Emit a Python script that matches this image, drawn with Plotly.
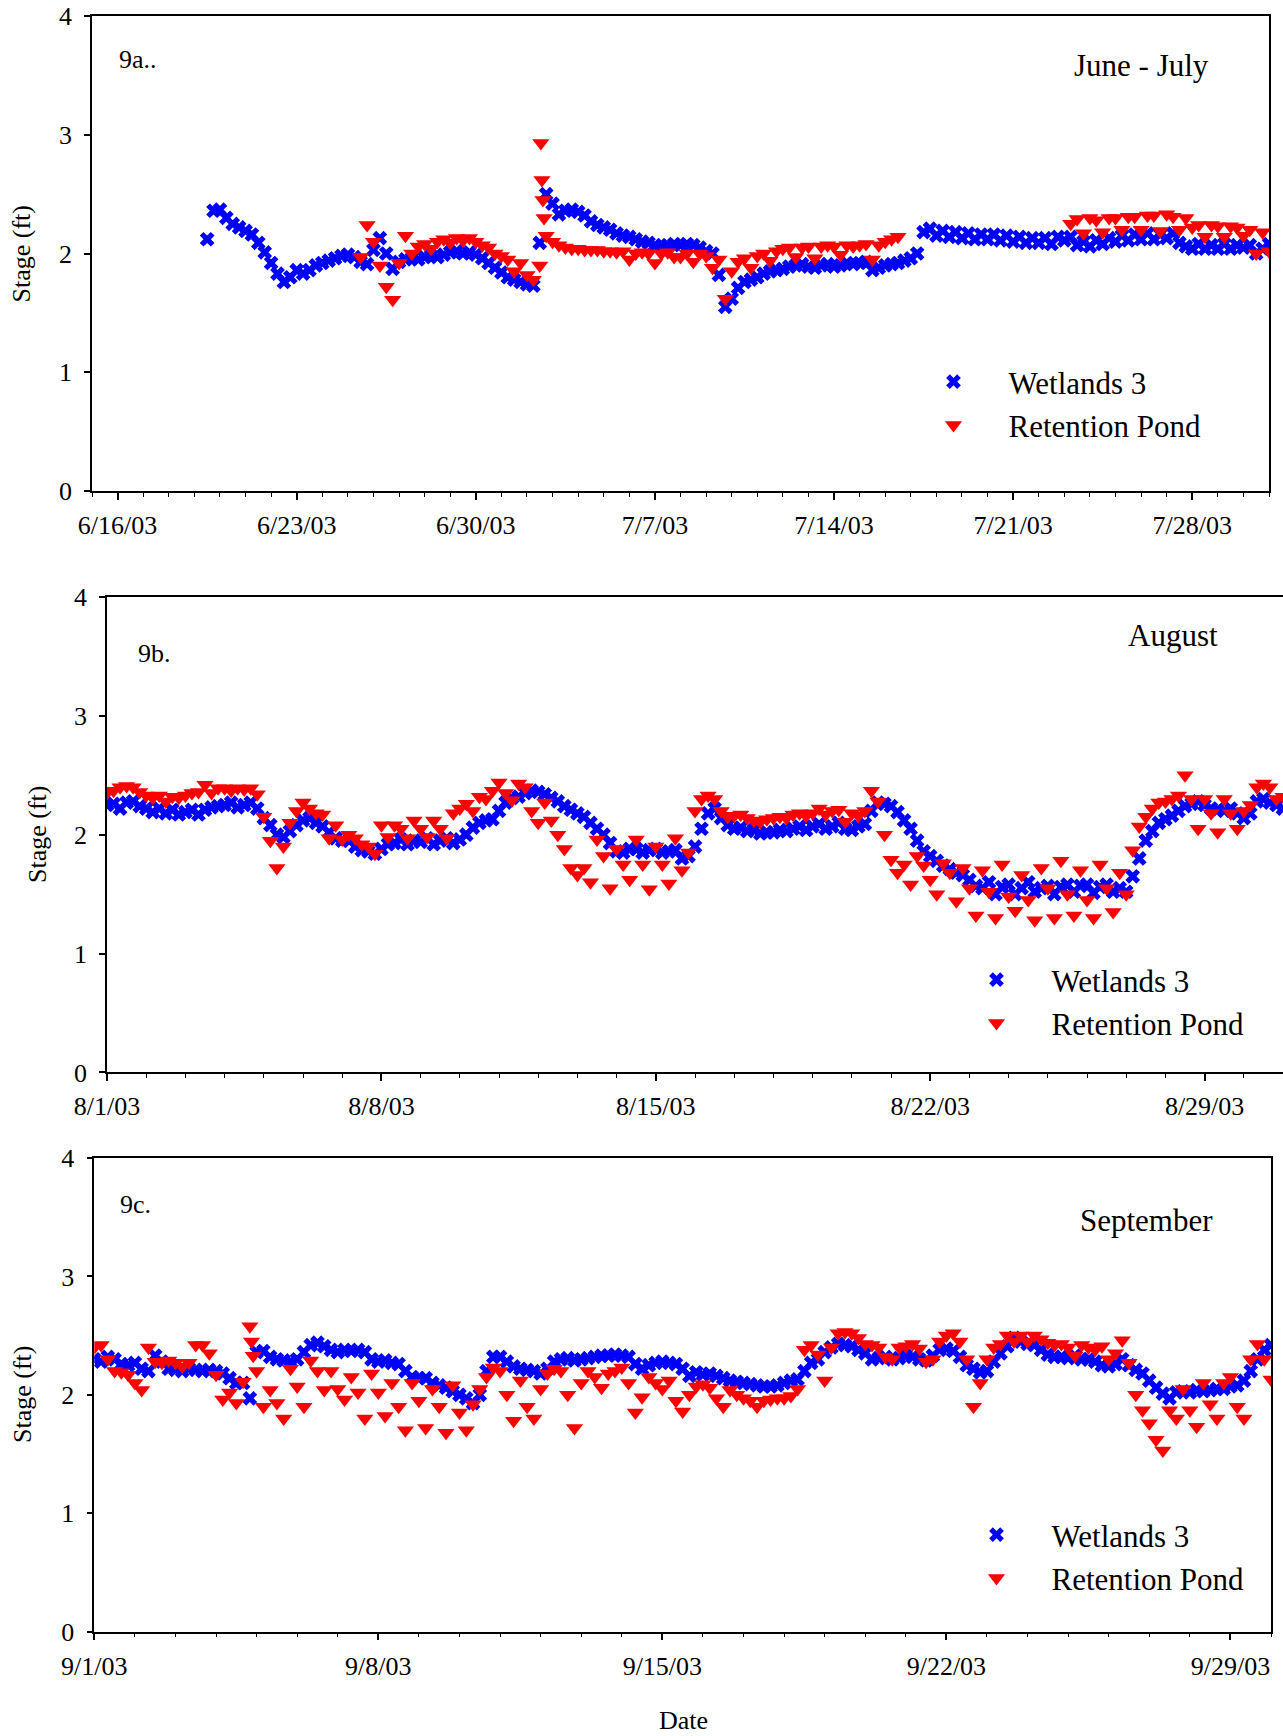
import pandas as pd
import plotly.graph_objects as go

FONT = "Liberation Serif, Times New Roman, serif"
W, H = 1283, 1736

# ---------------- data (stage, ft) ----------------
# Panel 9a: Wetlands 3, every 6 h from 2003-06-19 12:00
wet_a_start = "2003-06-19 12:00"
wet_a = [
    2.12, 2.36,
    2.37, 2.30, 2.25, 2.22,
    2.19, 2.16, 2.09, 2.01,
    1.92, 1.83, 1.76, 1.80,
    1.86, 1.83, 1.86, 1.90,
    1.92, 1.94, 1.96, 1.98,
    1.99, 1.97, 1.93, 1.91,
    2.03, 2.13, 2.00, 1.87,
    1.93, 1.95, 1.96, 1.95,
    1.97, 1.98, 1.97, 1.99,
    2.01, 2.02, 2.00, 2.01,
    1.99, 1.96, 1.92, 1.88,
    1.84, 1.80, 1.78, 1.76,
    1.74, 1.73, 2.09, 2.50,
    2.42, 2.33, 2.36, 2.37,
    2.35, 2.32, 2.27, 2.24,
    2.22, 2.20, 2.17, 2.15,
    2.14, 2.12, 2.10, 2.09,
    2.07, 2.06, 2.07, 2.08,
    2.07, 2.08, 2.07, 2.05,
    2.02, 2.00, 1.82, 1.55,
    1.62, 1.71, 1.76, 1.78,
    1.80, 1.83, 1.85, 1.86,
    1.87, 1.89, 1.90, 1.91,
    1.89, 1.88, 1.90, 1.91,
    1.89, 1.90, 1.92, 1.91,
    1.92, 1.93, 1.86, 1.88,
    1.90, 1.91, 1.92, 1.94,
    1.96, 2.00, 2.18, 2.21,
    2.15, 2.19, 2.14, 2.18,
    2.13, 2.17, 2.12, 2.16,
    2.12, 2.16, 2.11, 2.15,
    2.10, 2.14, 2.09, 2.13,
    2.09, 2.13, 2.08, 2.14,
    2.11, 2.14, 2.07, 2.10,
    2.06, 2.11, 2.08, 2.13,
    2.10, 2.15, 2.11, 2.16,
    2.12, 2.17, 2.12, 2.16,
    2.13, 2.17, 2.09, 2.06,
    2.04, 2.08, 2.04, 2.07,
    2.04, 2.08, 2.04, 2.07,
    2.05, 2.07, 2.00, 2.04,
    2.08,
]
# Panel 9a: Retention Pond, every 6 h from 2003-06-25 12:00 (None = no record)
pond_a_start = "2003-06-25 12:00"
pond_a = [
    1.97, 2.24,
    2.10, 1.90, 1.72, 1.61,
    1.92, 2.15, 2.00, 2.06,
    2.08, 2.04, 2.10, 2.12,
    2.09, 2.13, 2.11, 2.13,
    2.10, 2.07, 2.05, 2.00,
    1.98, 1.95, 1.85, 1.92,
    1.82, 1.78, 1.90, 2.15,
    2.10, 2.07, 2.05, 2.04,
    2.04, 2.03, 2.03, 2.03,
    2.02, 2.02, 2.01, 2.02,
    1.95, 2.00, 2.01, 2.00,
    1.92, 2.00, 2.01, 1.97,
    1.97, 2.00, 1.93, 2.00,
    1.98, 1.88, 1.95, 1.62,
    1.85, 1.93, 1.96, 1.88,
    1.98, 2.00, 1.94, 2.02,
    2.04, 2.05, 1.97, 2.05,
    2.06, 1.96, 2.06, 2.07,
    2.06, 1.99, 2.07, 2.06,
    2.07, 2.08, 1.95, 2.07,
    2.10, 2.12, 2.14, None,
    None, None, None, None,
    None, None, None, None,
    None, None, None, None,
    None, None, None, None,
    None, None, None, None,
    None, None, None, None,
    None, 2.25, 2.29, 2.17,
    2.30, 2.28, 2.18, 2.30,
    2.30, 2.20, 2.31, 2.31,
    2.20, 2.32, 2.32, 2.19,
    2.33, 2.31, 2.20, 2.30,
    2.22, 2.24, 2.14, 2.24,
    2.23, 2.14, 2.23, 2.22,
    2.15, 2.20, 2.00, 2.18,
    2.02,
]
pond_a_spike_times = ["2003-07-02 13:00", "2003-07-02 14:00", "2003-07-02 15:00", "2003-07-02 16:00"]
pond_a_spike = [2.93, 2.62, 2.45, 2.30]

# Panel 9b: every 4 h from 2003-08-01 00:00
wet_b_start = "2003-08-01 00:00"
wet_b = [
    2.25, 2.26, 2.22, 2.27, 2.28, 2.24,
    2.22, 2.19, 2.22, 2.18, 2.21, 2.17,
    2.19, 2.21, 2.17, 2.21, 2.23, 2.24,
    2.25, 2.27, 2.23, 2.25, 2.27, 2.22,
    2.14, 2.08, 2.00, 1.98, 2.03, 2.08,
    2.12, 2.14, 2.10, 2.07, 2.02, 1.97,
    1.95, 1.95, 1.90, 1.87, 1.86, 1.84,
    1.88, 1.92, 1.93, 1.96, 1.92, 1.95,
    1.94, 1.97, 1.92, 1.95, 1.97, 1.93,
    1.96, 2.00, 2.06, 2.10, 2.12, 2.13,
    2.20, 2.27, 2.31, 2.32, 2.35, 2.37,
    2.36, 2.34, 2.31, 2.28, 2.24, 2.21,
    2.18, 2.15, 2.10, 2.05, 2.00, 1.93,
    1.86, 1.85, 1.88, 1.88, 1.85, 1.87,
    1.88, 1.85, 1.86, 1.87, 1.80, 1.82,
    1.90, 2.05, 2.18, 2.22, 2.14, 2.08,
    2.05, 2.06, 2.03, 2.04, 2.01, 2.02,
    2.02, 2.04, 2.03, 2.05, 2.07, 2.04,
    2.07, 2.09, 2.05, 2.07, 2.10, 2.05,
    2.04, 2.07, 2.09, 2.20, 2.27, 2.26,
    2.24, 2.19, 2.12, 2.05, 1.95, 1.86,
    1.82, 1.78, 1.74, 1.71, 1.68, 1.66,
    1.62, 1.57, 1.55, 1.60, 1.50, 1.56,
    1.58, 1.50, 1.55, 1.60, 1.52, 1.55,
    1.57, 1.50, 1.56, 1.58, 1.52, 1.57,
    1.58, 1.51, 1.56, 1.58, 1.52, 1.55,
    1.52, 1.65, 1.80, 1.95, 2.03, 2.10,
    2.13, 2.16, 2.20, 2.24, 2.26, 2.28,
    2.25, 2.22, 2.21, 2.20, 2.22, 2.18,
    2.14, 2.18, 2.28, 2.30, 2.27, 2.25,
    2.22,
]
pond_b = [
    2.35, 2.37, 2.40, 2.41, 2.40, 2.36,
    2.33, 2.31, 2.33, 2.28, 2.32, 2.31,
    2.33, 2.35, 2.36, 2.42, 2.35, 2.39,
    2.39, 2.37, 2.39, 2.38, 2.39, 2.34,
    2.15, 1.95, 1.72, 1.90, 2.10, 2.20,
    2.27, 2.22, 2.18, 2.17, 1.97, 2.08,
    1.96, 2.00, 1.97, 1.92, 1.90, 1.84,
    2.08, 1.98, 2.08, 2.05, 1.97, 2.12,
    2.05, 1.98, 2.12, 2.05, 1.97, 2.18,
    2.22, 2.26, 2.20, 2.32, 2.30, 2.37,
    2.44, 2.35, 2.29, 2.43, 2.40, 2.20,
    2.10, 2.27, 2.12, 2.00, 1.88, 1.72,
    1.66, 1.72, 1.60, 1.96, 1.82, 1.55,
    1.88, 1.75, 1.62, 1.96, 1.75, 1.54,
    1.90, 1.75, 1.59, 1.97, 1.70, 1.85,
    2.20, 2.30, 2.33, 2.30, 2.20, 2.15,
    2.16, 2.17, 2.14, 2.12, 2.11, 2.13,
    2.14, 2.15, 2.14, 2.17, 2.18, 2.16,
    2.18, 2.22, 2.17, 2.20, 2.21, 2.11,
    2.18, 2.16, 2.20, 2.37, 2.28, 2.00,
    1.79, 1.68, 1.75, 1.58, 1.82, 1.74,
    1.62, 1.50, 1.76, 1.68, 1.44, 1.72,
    1.55, 1.32, 1.70, 1.52, 1.30, 1.75,
    1.48, 1.36, 1.66, 1.45, 1.28, 1.72,
    1.55, 1.30, 1.78, 1.50, 1.32, 1.70,
    1.45, 1.30, 1.75, 1.55, 1.35, 1.68,
    1.50, 1.87, 2.07, 2.15, 2.22, 2.27,
    2.28, 2.30, 2.33, 2.50, 2.30, 2.05,
    2.30, 2.18, 2.02, 2.30, 2.18, 2.05,
    2.20, 2.25, 2.40, 2.43, 2.40, 2.30,
    2.32,
]

# Panel 9c: every 4 h from 2003-09-01 00:00
wet_c_start = "2003-09-01 00:00"
wet_c = [
    2.30, 2.28, 2.32, 2.30, 2.26, 2.25,
    2.27, 2.22, 2.20, 2.33, 2.28, 2.22,
    2.21, 2.20, 2.22, 2.21, 2.20, 2.21,
    2.20, 2.18, 2.14, 2.10, 2.10, 1.97,
    2.36, 2.37, 2.32, 2.30, 2.29, 2.28,
    2.30, 2.36, 2.42, 2.44, 2.41, 2.38,
    2.36, 2.38, 2.37, 2.38, 2.36, 2.30,
    2.28, 2.29, 2.27, 2.26, 2.20, 2.15,
    2.14, 2.14, 2.10, 2.08, 2.06, 2.03,
    2.00, 1.97, 1.93, 2.00, 2.20, 2.32,
    2.32, 2.28, 2.24, 2.22, 2.21, 2.20,
    2.18, 2.22, 2.28, 2.30, 2.31, 2.29,
    2.30, 2.31, 2.32, 2.33, 2.33, 2.34,
    2.33, 2.32, 2.26, 2.22, 2.25, 2.27,
    2.28, 2.27, 2.26, 2.22, 2.16, 2.19,
    2.17, 2.18, 2.16, 2.14, 2.12, 2.11,
    2.10, 2.09, 2.08, 2.07, 2.07, 2.08,
    2.10, 2.12, 2.13, 2.20, 2.27, 2.30,
    2.36, 2.40, 2.43, 2.42, 2.41, 2.38,
    2.35, 2.30, 2.31, 2.32, 2.30, 2.31,
    2.33, 2.32, 2.30, 2.29, 2.33, 2.38,
    2.39, 2.37, 2.32, 2.25, 2.22, 2.19,
    2.20, 2.28, 2.35, 2.41, 2.48, 2.45,
    2.43, 2.42, 2.38, 2.34, 2.32, 2.32,
    2.31, 2.33, 2.30, 2.30, 2.28, 2.25,
    2.24, 2.26, 2.30, 2.25, 2.21, 2.18,
    2.12, 2.06, 2.01, 1.97, 2.02, 2.03,
    2.02, 2.04, 2.03, 2.04, 2.05, 2.05,
    2.07, 2.08, 2.12, 2.20, 2.30, 2.38,
    2.42,
]
pond_c = [
    2.40, 2.42, 2.30, 2.20, 2.19, 2.17,
    2.10, 2.04, 2.40, 2.28, 2.27, 2.29,
    2.27, 2.24, 2.27, 2.42, 2.42, 2.35,
    2.17, 1.96, 2.02, 1.93, 2.11, 2.58,
    2.20, 1.90, 2.04, 1.93, 1.80, 2.22,
    2.07, 1.90, 2.29, 2.20, 2.04, 2.20,
    2.05, 1.96, 2.15, 2.02, 1.80, 2.18,
    2.02, 1.82, 2.10, 1.90, 1.70, 2.10,
    1.95, 1.72, 2.05, 1.90, 1.68, 2.08,
    1.85, 1.70, 1.92, 2.05, 2.15, 2.23,
    2.20, 2.00, 1.78, 2.12, 1.90, 1.80,
    2.05, 2.18, 2.22, 2.20, 2.00, 1.72,
    2.10, 2.20, 2.15, 2.06, 2.18, 2.20,
    2.23, 2.10, 1.85, 1.98, 2.15, 2.10,
    2.05, 2.12, 1.95, 1.86, 2.00, 2.07,
    2.09, 2.06, 1.97, 1.90, 2.04, 2.00,
    1.97, 1.95, 1.90, 1.95, 1.96, 1.97,
    1.97, 1.99, 2.05, 2.38, 2.42, 2.34,
    2.12, 2.40, 2.52, 2.53, 2.52, 2.48,
    2.43, 2.42, 2.40, 2.32, 2.30, 2.40,
    2.41, 2.43, 2.39, 2.28, 2.30, 2.45,
    2.50, 2.52, 2.45, 2.30, 1.90, 2.10,
    2.30, 2.40, 2.43, 2.50, 2.45, 2.50,
    2.45, 2.50, 2.47, 2.44, 2.42, 2.43,
    2.40, 2.33, 2.42, 2.40, 2.38, 2.41,
    2.30, 2.35, 2.46, 2.27, 2.00, 1.87,
    1.76, 1.62, 1.53, 1.87, 1.80, 2.05,
    1.87, 1.73, 2.10, 1.92, 1.80, 2.10,
    2.15, 1.90, 1.80, 2.30, 2.43, 2.30,
    2.13,
]
pond_c_spike_times = ["2003-09-04 21:00", "2003-09-04 22:00"]
pond_c_spike = [2.45, 2.33]

# axes
ticks_a = ["2003-06-16", "2003-06-23", "2003-06-30", "2003-07-07", "2003-07-14", "2003-07-21", "2003-07-28"]
labels_a = ["6/16/03", "6/23/03", "6/30/03", "7/7/03", "7/14/03", "7/21/03", "7/28/03"]
ticks_b = ["2003-08-01", "2003-08-08", "2003-08-15", "2003-08-22", "2003-08-29"]
labels_b = ["8/1/03", "8/8/03", "8/15/03", "8/22/03", "8/29/03"]
ticks_c = ["2003-09-01", "2003-09-08", "2003-09-15", "2003-09-22", "2003-09-29"]
labels_c = ["9/1/03", "9/8/03", "9/15/03", "9/22/03", "9/29/03"]
range_a = ["2003-06-15", "2003-07-31"]
range_b = ["2003-08-01", "2003-08-31"]
range_c = ["2003-09-01", "2003-09-30"]
stage_ticks = [0, 1, 2, 3, 4]
panel_tags = ["9a..", "9b.", "9c."]
month_names = ["June - July", "August", "September"]
series_names = ["Wetlands 3", "Retention Pond"]


def times(start, n, freq):
    return [t.strftime("%Y-%m-%d %H:%M") for t in pd.date_range(start, periods=n, freq=freq)]


BLUE = "#0000ff"
RED = "#ff0000"
blue_marker = dict(symbol="x", size=13, color=BLUE, line=dict(width=0))
red_marker = dict(symbol="triangle-down", size=15, color=RED, line=dict(width=0))

fig = go.Figure()

panels = [
    ("x", "y", "legend",
     times(wet_a_start, len(wet_a), "6h"), wet_a,
     times(pond_a_start, len(pond_a), "6h") + pond_a_spike_times, pond_a + pond_a_spike),
    ("x2", "y2", "legend2",
     times(wet_b_start, len(wet_b), "4h"), wet_b,
     times(wet_b_start, len(pond_b), "4h"), pond_b),
    ("x3", "y3", "legend3",
     times(wet_c_start, len(wet_c), "4h"), wet_c,
     times(wet_c_start, len(pond_c), "4h") + pond_c_spike_times, pond_c + pond_c_spike),
]
for xa, ya, lg, tx1, v1, tx2, v2 in panels:
    fig.add_trace(go.Scatter(x=tx1, y=v1, mode="markers", marker=blue_marker,
                             name=series_names[0], xaxis=xa, yaxis=ya, legend=lg))
    fig.add_trace(go.Scatter(x=tx2, y=v2, mode="markers", marker=red_marker,
                             name=series_names[1], xaxis=xa, yaxis=ya, legend=lg))


def px_x(v):
    return v / W


def px_y(v):
    return 1 - v / H


tickfont = dict(family=FONT, size=26, color="black")


def xaxis(dom, rng, tv, tt, anchor, tick0):
    return dict(domain=dom, range=rng, type="date", anchor=anchor, automargin=False,
                tickmode="array", tickvals=tv, ticktext=tt,
                showline=True, linecolor="black", linewidth=1.5, mirror=True,
                ticks="outside", ticklen=7, tickwidth=1.5, tickcolor="black",
                ticklabelstandoff=3,
                minor=dict(ticks="outside", ticklen=4, tickwidth=1, tickcolor="black",
                           tickmode="linear", tick0=tick0, dtick=86400000, showgrid=False),
                showgrid=False, zeroline=False, tickfont=tickfont)


def yaxis(dom, anchor, mirror):
    return dict(domain=dom, range=[0, 4], anchor=anchor, automargin=False,
                tickmode="array", tickvals=stage_ticks,
                showline=True, linecolor="black", linewidth=1.5, mirror=mirror,
                ticks="outside", ticklen=6, tickwidth=1.5, tickcolor="black",
                ticklabelstandoff=7,
                showgrid=False, zeroline=False, tickfont=tickfont)


layout = dict(
    template="none",
    width=W, height=H, margin=dict(l=0, r=0, t=0, b=0, pad=0, autoexpand=False),
    paper_bgcolor="white", plot_bgcolor="white",
    font=dict(family=FONT, color="black"),
    xaxis=xaxis([px_x(92), px_x(1269)], range_a, ticks_a, labels_a, "y", "2003-06-15"),
    yaxis=yaxis([px_y(491), px_y(16)], "x", True),
    xaxis2=xaxis([px_x(107), 1.0], range_b, ticks_b, labels_b, "y2", "2003-08-01"),
    yaxis2=yaxis([px_y(1072.4), px_y(597)], "x2", False),
    xaxis3=xaxis([px_x(94.3), px_x(1271)], range_c, ticks_c, labels_c, "y3", "2003-09-01"),
    yaxis3=yaxis([px_y(1631.6), px_y(1158)], "x3", True),
)

leg_common = dict(font=dict(family=FONT, size=31, color="black"), bgcolor="rgba(0,0,0,0)",
                  borderwidth=0, itemwidth=100, xanchor="left", yanchor="top", tracegroupgap=0)
layout["legend"] = dict(leg_common, x=px_x(898.5), y=px_y(355))
layout["legend2"] = dict(leg_common, x=px_x(941.5), y=px_y(953))
layout["legend3"] = dict(leg_common, x=px_x(941.5), y=px_y(1508))

ann = []


def add_text(text, x, y, size, xanchor="left", angle=0):
    ann.append(dict(text=text, x=px_x(x), y=px_y(y), xref="paper", yref="paper",
                    xanchor=xanchor, yanchor="middle", showarrow=False, textangle=angle,
                    font=dict(family=FONT, size=size, color="black")))


add_text(panel_tags[0], 117, 59, 26)
add_text(panel_tags[1], 136, 653, 26)
add_text(panel_tags[2], 118, 1204, 26)
add_text(month_names[0], 1211, 65, 31, "right")
add_text(month_names[1], 1220, 635, 31, "right")
add_text(month_names[2], 1215, 1220, 31, "right")
add_text("Stage (ft)", 20.5, 254, 26, "center", -90)
add_text("Stage (ft)", 37, 835, 26, "center", -90)
add_text("Stage (ft)", 22, 1395, 26, "center", -90)
add_text("Date", 683, 1720, 26, "center")
layout["annotations"] = ann

fig.update_layout(**layout)
fig.write_html("out.html")
